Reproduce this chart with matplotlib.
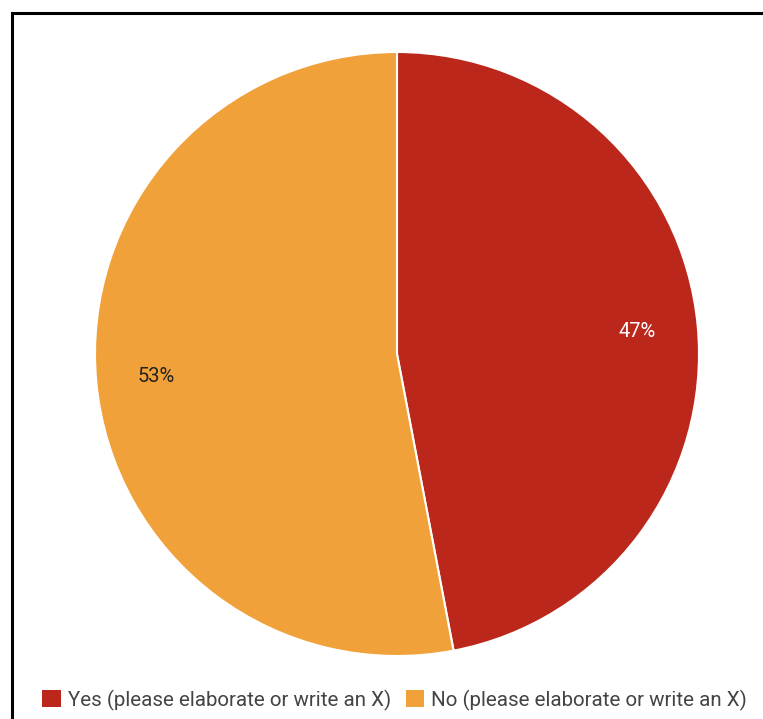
import matplotlib
matplotlib.use("Agg")
import matplotlib.pyplot as plt
from matplotlib.patches import Rectangle

categories = ["Yes (please elaborate or write an X)", "No (please elaborate or write an X)"]
values = [47, 53]
colors = ["#BB271A", "#F1A13A"]
label_colors = ["white", "#222222"]

plt.rcParams["font.family"] = ["Roboto", "DejaVu Sans"]

W, H = 763, 719
fig = plt.figure(figsize=(W / 100, H / 100), dpi=100)

# pie centred at (397, 354) px with a radius of ~302 px
cx, cy, r = 397, 354, 302
ax = fig.add_axes([(cx - r) / W, (H - cy - r) / H, 2 * r / W, 2 * r / H])
wedges, texts, autotexts = ax.pie(
    values, colors=colors, startangle=90, counterclock=False,
    autopct="%1.0f%%", pctdistance=0.8,
    wedgeprops=dict(edgecolor="white", linewidth=1.5),
    textprops=dict(fontsize=14.5),
)
for t, c in zip(autotexts, label_colors):
    t.set_color(c)
ax.set_xlim(-1, 1)
ax.set_ylim(-1, 1)
ax.set_aspect("equal")
ax.axis("off")

# frame around the chart (runs off the right and bottom edges)
fig.patches.append(Rectangle((11.5 / W, -0.05), 1.2, 1 - 13 / H + 0.05,
                             transform=fig.transFigure, fill=False,
                             edgecolor="black", linewidth=2.2))

leg = fig.legend(wedges, categories, loc="lower left", ncol=2,
                 bbox_to_anchor=(24 / W, -0.014), frameon=False,
                 fontsize=14.8, handlelength=0.9, handleheight=0.9,
                 handletextpad=0.33, columnspacing=0.72, labelcolor="#444444")
for h in leg.legend_handles:
    h.set_edgecolor("none")

fig.savefig("out.png", dpi=100)
